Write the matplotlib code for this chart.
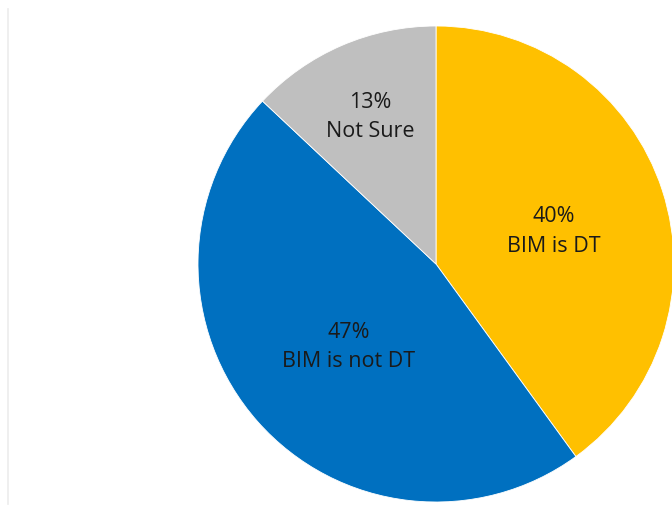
import matplotlib
matplotlib.use("Agg")
import matplotlib.pyplot as plt
import numpy as np
from matplotlib.lines import Line2D

labels = ["BIM is DT", "BIM is not DT", "Not Sure"]
values = [40, 47, 13]
colors = ["#FFC000", "#0070C0", "#BFBFBF"]
label_dist = [0.52, 0.49, 0.70]

fig = plt.figure(figsize=(6.72, 5.06), dpi=100)
fig.patch.set_facecolor("white")
ax = fig.add_axes([198/672, 3/506, 476/672, 476/506])
wedges, _ = ax.pie(values, colors=colors, startangle=90, counterclock=False,
                   radius=1.0, wedgeprops=dict(edgecolor="white", linewidth=0.6))
ax.set_xlim(-1, 1)
ax.set_ylim(-1, 1)
ax.set_aspect("equal")
ax.axis("off")

for w, lab, v, d in zip(wedges, labels, values, label_dist):
    ang = np.deg2rad((w.theta1 + w.theta2) / 2)
    ax.annotate(f"{v}%\n{lab}", xy=(d*np.cos(ang), d*np.sin(ang)),
                xytext=(0, -3.5), textcoords="offset points",
                ha="center", va="center",
                fontsize=15.5, color="#1a1a1a", family="Open Sans", linespacing=1.55)

fig.add_artist(Line2D([7.5/672, 7.5/672], [1-10/506, 1-505/506], transform=fig.transFigure,
                      color="#ececec", linewidth=1.2))

fig.savefig("out.png", dpi=100, facecolor="white")
